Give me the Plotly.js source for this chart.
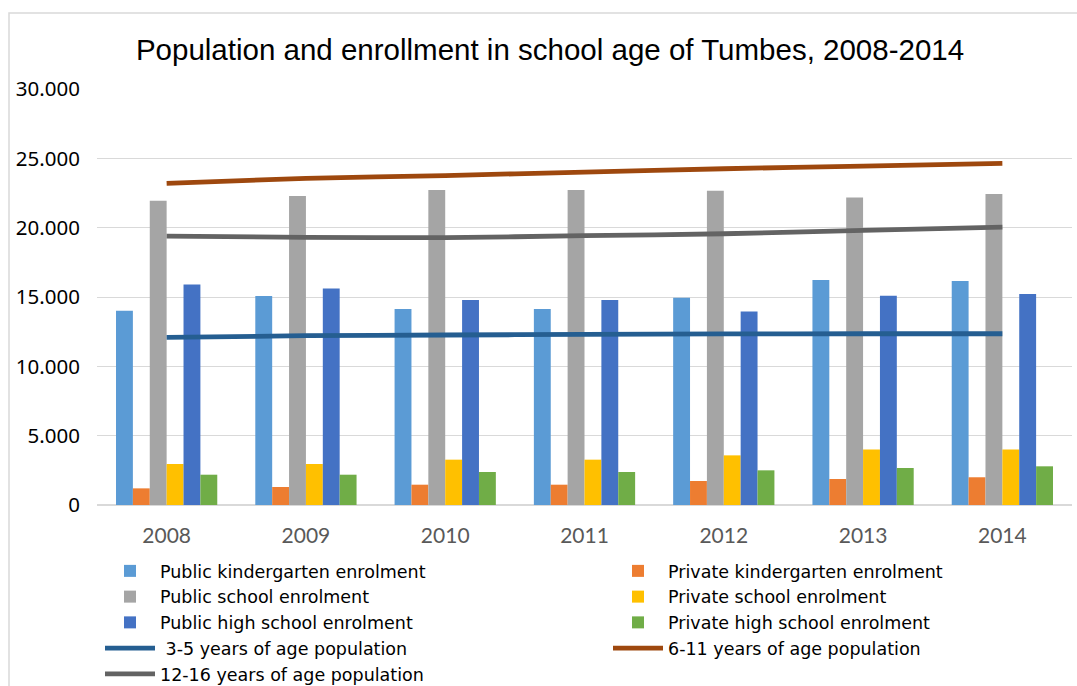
<!DOCTYPE html>
<html>
<head>
<meta charset="utf-8">
<script src="https://cdn.plot.ly/plotly-3.0.1.min.js"></script>
<style>
html,body{margin:0;padding:0;background:#fff;}
#chart{width:1077px;height:686px;}
</style>
</head>
<body>
<div id="chart"></div>
<script>
const years = ['2008','2009','2010','2011','2012','2013','2014'];
const publicKindergarten = [14010, 15070, 14130, 14130, 14950, 16220, 16150];
const privateKindergarten = [1200, 1300, 1465, 1465, 1730, 1875, 2000];
const publicSchool = [21940, 22280, 22710, 22710, 22660, 22180, 22420];
const privateSchool = [2955, 2955, 3270, 3270, 3580, 4010, 4010];
const publicHighSchool = [15910, 15620, 14780, 14780, 13960, 15090, 15210];
const privateHighSchool = [2185, 2185, 2380, 2380, 2500, 2670, 2790];
const pop3to5 = [12090, 12210, 12260, 12300, 12340, 12350, 12350];
const pop6to11 = [23190, 23560, 23760, 24010, 24250, 24440, 24630];
const pop12to16 = [19390, 19300, 19280, 19420, 19560, 19800, 20040];

// [name, values, colour, legend column]
const barSeries = [
  ['Public kindergarten enrolment', publicKindergarten, '#5B9BD5', 'legend'],
  ['Private kindergarten enrolment', privateKindergarten, '#ED7D31', 'legend2'],
  ['Public school enrolment', publicSchool, '#A5A5A5', 'legend'],
  ['Private school enrolment', privateSchool, '#FFC000', 'legend2'],
  ['Public high school enrolment', publicHighSchool, '#4472C4', 'legend'],
  ['Private high school enrolment', privateHighSchool, '#70AD47', 'legend2']
];
const lineSeries = [
  [' 3-5 years of age population', pop3to5, '#255E91', 'legend'],
  ['6-11 years of age population', pop6to11, '#9E480E', 'legend2'],
  ['12-16 years of age population', pop12to16, '#636363', 'legend']
];

const traces = [];
barSeries.forEach(([name, vals, color, lg]) => {
  traces.push({type:'bar', name:name, x:years, y:vals, legend:lg,
    marker:{color:color, line:{width:0}}, hoverinfo:'y+name'});
});
lineSeries.forEach(([name, vals, color, lg]) => {
  traces.push({type:'scatter', mode:'lines', name:name, x:years, y:vals, legend:lg,
    line:{color:color, width:4.8, shape:'spline', smoothing:0.6}});
});

const W = 1077, H = 686, ml = 97, mr = 5, mt = 89, mb = 181;
const pw = W - ml - mr, ph = H - mt - mb;

const legendCommon = {
  orientation: 'v', xref: 'paper', yref: 'container',
  xanchor: 'left', y: 1 - 553 / H, yanchor: 'top',
  itemwidth: 50, traceorder: 'normal',
  font: {family: 'DejaVu Sans, sans-serif', size: 17.5, color: '#000000'},
  bgcolor: 'rgba(0,0,0,0)', tracegroupgap: 0
};

const layout = {
  width: W, height: H,
  margin: {l: ml, r: mr, t: mt, b: mb, pad: 0},
  paper_bgcolor: '#ffffff', plot_bgcolor: '#ffffff',
  separators: ',.',
  barmode: 'group', bargap: 0.273, bargroupgap: 0,
  title: {text: 'Population and enrollment in school age of Tumbes, 2008-2014',
    font: {family: 'Liberation Sans, Arial, sans-serif', size: 29.5, color: '#000000'},
    x: 550 / W, xanchor: 'center', xref: 'container', y: 1 - 50 / H, yanchor: 'middle'},
  xaxis: {type: 'category', showgrid: false, showline: false, zeroline: false,
    ticks: 'outside', ticklen: 12, tickcolor: 'rgba(0,0,0,0)',
    tickfont: {family: 'Lato, sans-serif', size: 21, color: '#595959'}},
  yaxis: {range: [0, 30000], dtick: 5000, tickformat: ',d',
    showgrid: true, gridcolor: '#d9d9d9', gridwidth: 1,
    zeroline: true, zerolinecolor: '#d9d9d9', zerolinewidth: 1.5, showline: false,
    ticks: 'outside', ticklen: 12, tickcolor: 'rgba(0,0,0,0)',
    tickfont: {family: 'Noto Sans, sans-serif', size: 20.5, color: '#000000'}},
  legend: Object.assign({}, legendCommon, {x: (100 - ml) / pw}),
  legend2: Object.assign({}, legendCommon, {x: (608 - ml) / pw}),
  shapes: [{type: 'rect', xref: 'paper', yref: 'paper',
    x0: (9 - ml) / pw, x1: (1090 - ml) / pw, y0: (H - mb - 700) / ph, y1: (H - mb - 13) / ph,
    line: {color: '#d9d9d9', width: 1.5}, fillcolor: 'rgba(0,0,0,0)', layer: 'below'}],
  showlegend: true
};

Plotly.newPlot('chart', traces, layout, {displayModeBar: false, staticPlot: true});
</script>
</body>
</html>
